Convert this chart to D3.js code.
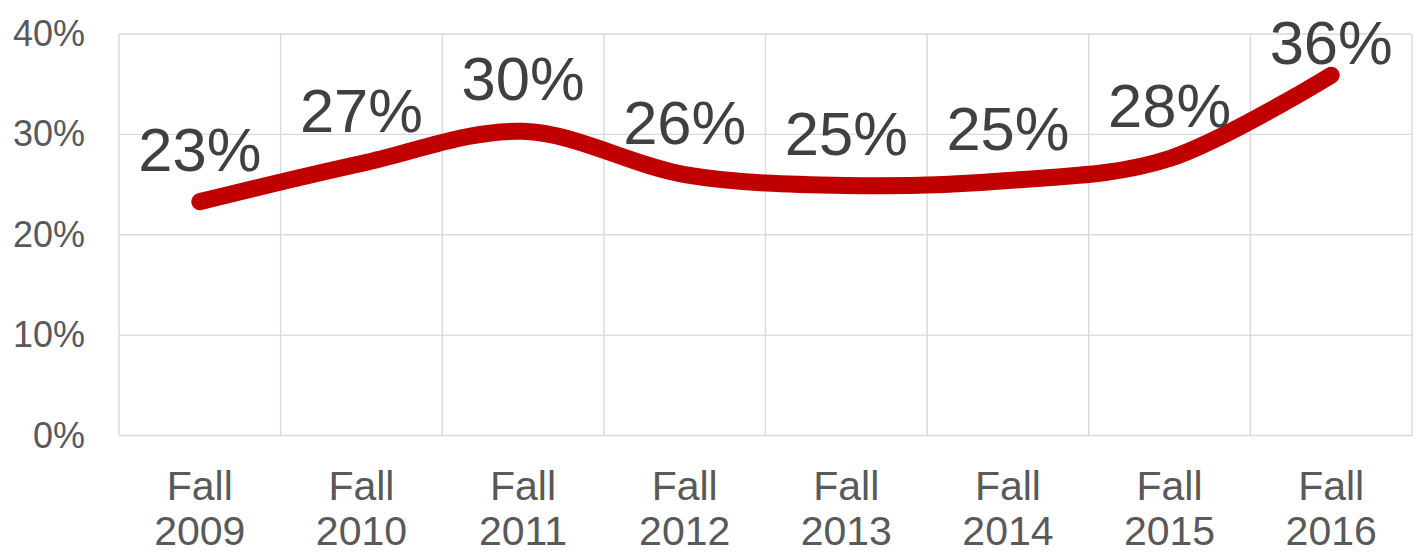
<!DOCTYPE html>
<html>
<head>
<meta charset="utf-8">
<script src="https://cdn.jsdelivr.net/npm/d3@7"></script>
<style>
  html, body { margin: 0; padding: 0; background: #fff; }
  svg { display: block; font-family: "Liberation Sans", Arial, sans-serif; }
</style>
</head>
<body>
<svg id="chart" width="1424" height="554"></svg>
<script>
// Share of students, by fall term
const terms = ["Fall 2009", "Fall 2010", "Fall 2011", "Fall 2012", "Fall 2013", "Fall 2014", "Fall 2015", "Fall 2016"];
const shares = [0.233, 0.271, 0.303, 0.260, 0.249, 0.254, 0.276, 0.359];
const yTicks = [0, 0.1, 0.2, 0.3, 0.4];

const svg = d3.select("#chart");
const margin = { left: 119, right: 12, top: 34, bottom: 118.5 };
const W = 1424, H = 554;
const plotW = W - margin.left - margin.right;
const plotH = H - margin.top - margin.bottom;

const x = d3.scaleBand().domain(terms).range([margin.left, margin.left + plotW]);
const y = d3.scaleLinear().domain([0, 0.4]).range([margin.top + plotH, margin.top]);

const grid = "#d9d9d9";

// horizontal gridlines
svg.append("g")
  .selectAll("line")
  .data(yTicks)
  .join("line")
  .attr("x1", margin.left).attr("x2", margin.left + plotW)
  .attr("y1", d => y(d)).attr("y2", d => y(d))
  .attr("stroke", grid).attr("stroke-width", 1.4);

// vertical category dividers
const edges = terms.map(t => x(t)).concat([margin.left + plotW]);
svg.append("g")
  .selectAll("line")
  .data(edges)
  .join("line")
  .attr("x1", d => d).attr("x2", d => d)
  .attr("y1", margin.top).attr("y2", margin.top + plotH)
  .attr("stroke", grid).attr("stroke-width", 1.4);

// y-axis labels
const yAxis = d3.axisLeft(y).tickValues(yTicks).tickFormat(d3.format(".0%")).tickSize(0).tickPadding(34);
svg.append("g")
  .attr("transform", `translate(${margin.left},0)`)
  .call(yAxis)
  .call(g => g.select(".domain").remove())
  .call(g => g.selectAll("text")
    .attr("font-size", 36)
    .attr("font-family", "'Liberation Sans', Arial, sans-serif")
    .attr("fill", "#595959"));

// x-axis labels, two lines each
const xl = svg.append("g")
  .selectAll("text")
  .data(terms)
  .join("text")
  .attr("text-anchor", "middle")
  .attr("font-size", 41)
  .attr("fill", "#595959");
xl.each(function (d) {
  const parts = d.split(" ");
  const cx = x(d) + x.bandwidth() / 2;
  d3.select(this).append("tspan").attr("x", cx).attr("y", 500).text(parts[0]);
  d3.select(this).append("tspan").attr("x", cx).attr("y", 545).text(parts[1]);
});

// smoothed line
const line = d3.line()
  .x((d, i) => x(terms[i]) + x.bandwidth() / 2)
  .y(d => y(d))
  .curve(d3.curveCatmullRom.alpha(0));

svg.append("path")
  .datum(shares)
  .attr("d", line)
  .attr("fill", "none")
  .attr("stroke", "#c00000")
  .attr("stroke-width", 17)
  .attr("stroke-linecap", "round")
  .attr("stroke-linejoin", "round");

// data labels above each point
svg.append("g")
  .selectAll("text")
  .data(shares)
  .join("text")
  .attr("x", (d, i) => x(terms[i]) + x.bandwidth() / 2)
  .attr("y", d => Math.max(y(d) - 31, 64))
  .attr("text-anchor", "middle")
  .attr("font-size", 61.5)
  .attr("fill", "#404040")
  .text(d => d3.format(".0%")(d));
</script>
</body>
</html>
